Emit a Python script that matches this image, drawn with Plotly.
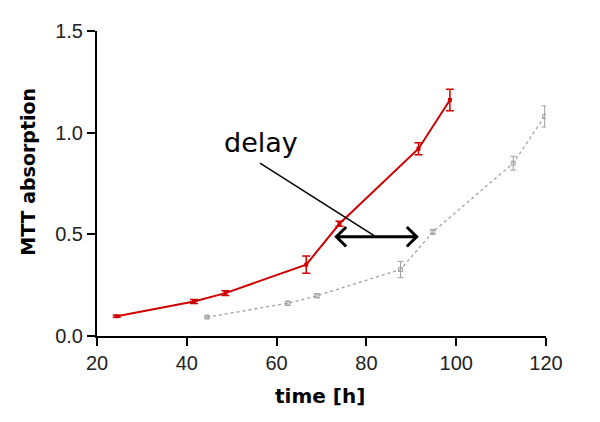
import plotly.graph_objects as go

# Data
red_time = [24.4, 41.6, 48.6, 66.6, 74.0, 91.6, 98.6]
red_mtt = [0.097, 0.170, 0.211, 0.351, 0.552, 0.921, 1.161]
red_err = [0.005, 0.010, 0.012, 0.043, 0.012, 0.030, 0.053]

gray_time = [44.5, 62.5, 69.0, 87.6, 94.8, 112.7, 119.7]
gray_mtt = [0.093, 0.161, 0.198, 0.327, 0.512, 0.850, 1.080]
gray_err = [0.005, 0.010, 0.010, 0.040, 0.012, 0.034, 0.052]

x_ticks = [20, 40, 60, 80, 100, 120]
y_ticks = [0.0, 0.5, 1.0, 1.5]
y_tick_labels = ["0.0", "0.5", "1.0", "1.5"]

# Annotation geometry (data coords)
delay_text_pos = (56.5, 0.952)
pointer_line = ((56.3, 0.850), (81.8, 0.493))
arrow_y = 0.488
arrow_x = (73.3, 91.2)
head_dx = 2.2
head_dy = 0.048

RED = "#cc0000"
GRAY = "#a0a0a0"

W, H = 592, 414
ML, MR, MT, MB = 89, 54, 18, 86
PW, PH = W - ML - MR, H - MT - MB
OFF = 8  # page body margin


def px_to_paper(px, py):
    return (px - OFF - ML) / PW, (H - MB - (py - OFF)) / PH


fig = go.Figure()
fig.add_trace(go.Scatter(
    x=gray_time, y=gray_mtt, mode="lines+markers",
    line=dict(color=GRAY, width=1.3, dash="dot"),
    marker=dict(symbol="square-open", size=4, color=GRAY, line=dict(width=1, color=GRAY)),
    error_y=dict(type="data", array=gray_err, color=GRAY, thickness=1, width=3),
    showlegend=False, hoverinfo="skip"))
fig.add_trace(go.Scatter(
    x=red_time, y=red_mtt, mode="lines+markers",
    line=dict(color=RED, width=2),
    marker=dict(symbol="square", size=4, color=RED),
    error_y=dict(type="data", array=red_err, color=RED, thickness=1.5, width=4),
    showlegend=False, hoverinfo="skip"))

shapes = []
shapes.append(dict(type="line", xref="x", yref="y",
                   x0=pointer_line[0][0], y0=pointer_line[0][1],
                   x1=pointer_line[1][0], y1=pointer_line[1][1],
                   line=dict(color="black", width=1.5)))
x0, x1 = arrow_x
path = (f"M {x0},{arrow_y} L {x1},{arrow_y} "
        f"M {x0 + head_dx},{arrow_y + head_dy} L {x0},{arrow_y} L {x0 + head_dx},{arrow_y - head_dy} "
        f"M {x1 - head_dx},{arrow_y + head_dy} L {x1},{arrow_y} L {x1 - head_dx},{arrow_y - head_dy}")
shapes.append(dict(type="path", xref="x", yref="y", path=path,
                   line=dict(color="black", width=3)))

xt = px_to_paper(320, 397)
yt = px_to_paper(28, 169)

fig.update_layout(
    width=W, height=H,
    margin=dict(l=ML, r=MR, t=MT, b=MB),
    paper_bgcolor="white", plot_bgcolor="white",
    font=dict(family="Arial, Liberation Sans, sans-serif", color="#222"),
    shapes=shapes,
    annotations=[
        dict(text="delay", x=delay_text_pos[0], y=delay_text_pos[1], xref="x", yref="y",
             showarrow=False, font=dict(size=27, color="black", family="DejaVu Sans"),
             xanchor="center", yanchor="middle"),
        dict(text="<b>time [h]</b>", x=xt[0], y=xt[1], xref="paper", yref="paper",
             xanchor="center", yanchor="middle", showarrow=False,
             font=dict(size=20, color="black", family="DejaVu Sans")),
        dict(text="<b>MTT absorption</b>", x=yt[0], y=yt[1], xref="paper", yref="paper",
             showarrow=False, textangle=-90,
             font=dict(size=19, color="black", family="DejaVu Sans"),
             xanchor="center", yanchor="middle"),
    ],
    xaxis=dict(range=[20, 120], tickvals=x_ticks, showline=True, linecolor="black", linewidth=2,
               ticks="outside", ticklen=8, tickwidth=2, tickcolor="black", showgrid=False,
               zeroline=False, tickfont=dict(size=20, color="#222")),
    yaxis=dict(range=[0, 1.5], tickvals=y_ticks, ticktext=y_tick_labels, showline=True,
               linecolor="black", linewidth=2, ticks="outside", ticklen=8, tickwidth=2,
               tickcolor="black", showgrid=False, zeroline=False, tickfont=dict(size=20, color="#222")),
)

fig.write_html("out.html")
